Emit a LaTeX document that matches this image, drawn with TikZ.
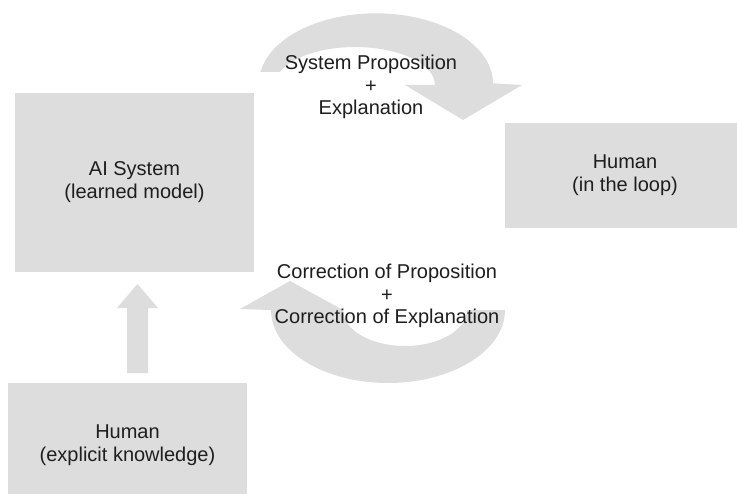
\documentclass[tikz,border=0pt]{standalone}
\usepackage{fontspec}
\setmainfont{Liberation Sans}
\definecolor{grisclair}{RGB}{221,221,221}
\definecolor{encre}{RGB}{30,30,30}
\begin{document}
\begin{tikzpicture}[x=0.5pt, y=0.5pt]
\tikzset{boite/.style={fill=grisclair, inner sep=0pt, align=center, text=encre, font=\fontsize{10}{11.5}\selectfont},
  fleche/.style={fill=grisclair},
  legende/.style={align=center, text=encre, font=\fontsize{10}{11.3}\selectfont}}
\clip (0, 0) rectangle (737, 493);
\fill[white] (0, 0) rectangle (737, 493);
% les trois boites
\node[boite, minimum width=119.5pt, minimum height=89.5pt] (ai) at (134.5, 310.5) {AI System\\(learned model)};
\node[boite, minimum width=120pt, minimum height=52.5pt] (loop) at (625, 317.5) {Human\\(in the loop)};
\node[boite, minimum width=119.5pt, minimum height=62pt] (expl) at (127.5, 48) {Human\\(explicit knowledge)};
% fleche vers le haut
\fill[fleche] (127, 120) -- (148, 120) -- (148, 185) -- (158, 185) -- (137.5, 209) -- (117, 185) -- (127, 185) -- cycle;
% fleche courbe du haut
\fill[fleche] (260.5, 421) arc[start angle=170.7, end angle=0, x radius=117, y radius=70]
  -- (522, 408) -- (463, 373) -- (405, 408) -- (435, 408)
  arc[start angle=0, end angle=160, x radius=80, y radius=38] -- cycle;
% fleche courbe du bas
\fill[fleche] (505, 183) arc[start angle=0, end angle=-180, x radius=117, y radius=73]
  -- (240, 184) -- (290, 212) -- (343, 183)
  arc[start angle=180, end angle=360, x radius=62, y radius=36] -- cycle;
\node[legende] (prop) at (371, 406) {System Proposition\\+\\Explanation};
\node[legende] (corr) at (387, 197) {Correction of Proposition\\+\\Correction of Explanation};
\end{tikzpicture}
\end{document}
